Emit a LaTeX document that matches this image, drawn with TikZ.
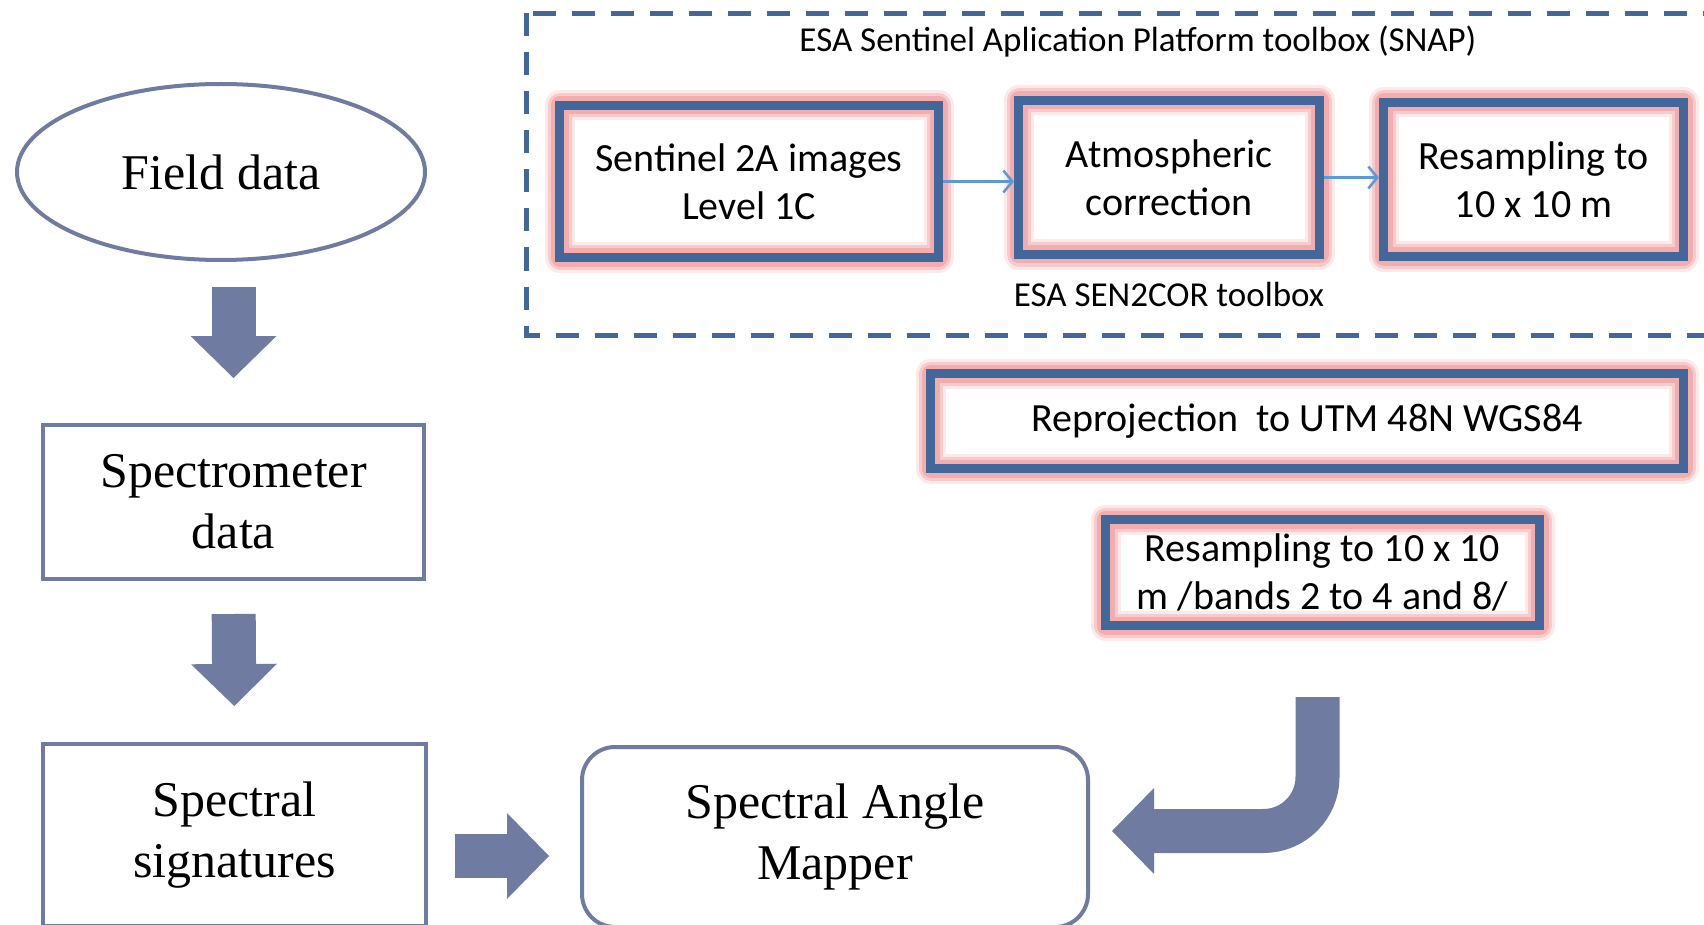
\documentclass[tikz,border=0pt]{standalone}
\usepackage{fontspec}
\newfontfamily\calib{Carlito}
\newfontfamily\tnr{Liberation Serif}
\usetikzlibrary{shapes.geometric,arrows.meta}
\definecolor{snapblue}{RGB}{66,104,155}
\definecolor{glowpink}{RGB}{244,172,172}
\definecolor{slate}{RGB}{112,123,161}
\definecolor{thinblue}{RGB}{91,155,213}
\begin{document}
\begin{tikzpicture}[x=1pt,y=-1pt,
  snapbox/.style={draw=snapblue, line width=9pt, align=center, inner sep=0pt,
    font=\calib\fontsize{40}{48}\selectfont,
    preaction={draw=glowpink, draw opacity=0.25, line width=30pt, line join=round},
    preaction={draw=glowpink, draw opacity=0.5, line width=24pt, line join=round},
    preaction={draw=glowpink, line width=18pt, line join=round}},
  leftbox/.style={draw=slate, line width=4pt, align=center, inner sep=0pt,
    font=\tnr\fontsize{50}{61}\selectfont},
  tag/.style={inner sep=0pt, font=\calib\fontsize{35}{42}\selectfont},
  fat/.style={draw=slate, line width=44pt,
    -{Triangle[length=42pt,width=86pt,line width=0pt]}},
  thin/.style={draw=thinblue, line width=2.5pt,
    -{Straight Barb[length=9pt,width=22pt]}}]
\useasboundingbox (0,0) rectangle (1704,925);
\clip (0,0) rectangle (1704,925);

% SNAP toolbox frame
\draw[snapblue, line width=5pt, dash pattern=on 23pt off 16pt]
  (526.5,13.5) rectangle (1740,335.5);
\node[tag] (title) at (1138,42) {ESA Sentinel Aplication Platform toolbox (SNAP)};

% processing chain
\node[snapbox, minimum width=379pt, minimum height=152pt] (s2a) at (749,181.5)
  {Sentinel 2A images\\Level 1C};
\node[snapbox, minimum width=301pt, minimum height=154pt] (atm) at (1169,177.5)
  {Atmospheric\\correction};
\node[snapbox, minimum width=300pt, minimum height=154pt] (res1) at (1533.5,179.5)
  {Resampling to\\10 x 10 m};
\node[tag] (sencor) at (1169,294) {ESA SEN2COR toolbox};
\node[snapbox, minimum width=753pt, minimum height=95pt] (reproj) at (1307,421)
  {Reprojection\ \ to UTM 48N WGS84};
\node[snapbox, minimum width=434pt, minimum height=106pt] (res2) at (1322.5,572.5)
  {Resampling to 10 x 10\\m /bands 2 to 4 and 8/};

\draw[thin] (s2a.east) -- (s2a.east -| atm.west);
\draw[thin] (atm.east) -- (atm.east -| res1.west);

% field side
\node[leftbox, ellipse, minimum width=408pt, minimum height=176pt] (field) at (221,172)
  {Field data};
\node[leftbox, minimum width=381pt, minimum height=154pt] (spec) at (233.5,502)
  {Spectrometer\\data};
\node[leftbox, minimum width=383pt, minimum height=182pt] (sig) at (234.5,835)
  {Spectral\\signatures};
\node[leftbox, rounded corners=33pt, minimum width=506pt, minimum height=180pt]
  (sam) at (835,837) {Spectral Angle\\Mapper};

% block arrows
\coordinate (ry) at (0,856);
\draw[fat, shorten <=25pt, shorten >=45pt] (spec.north |- field.south) -- (spec.north);
\draw[fat, shorten <=33pt, shorten >=36pt] (spec.south) -- (sig.north);
\draw[fat, shorten <=27pt, shorten >=31pt] (sig.east |- ry) -- (sam.west |- ry);
\draw[fat, rounded corners=54pt, shorten <=67pt, shorten >=22pt]
  ([xshift=-5pt]res2.south) |- ([yshift=6pt]sam.east);
\end{tikzpicture}
\end{document}
